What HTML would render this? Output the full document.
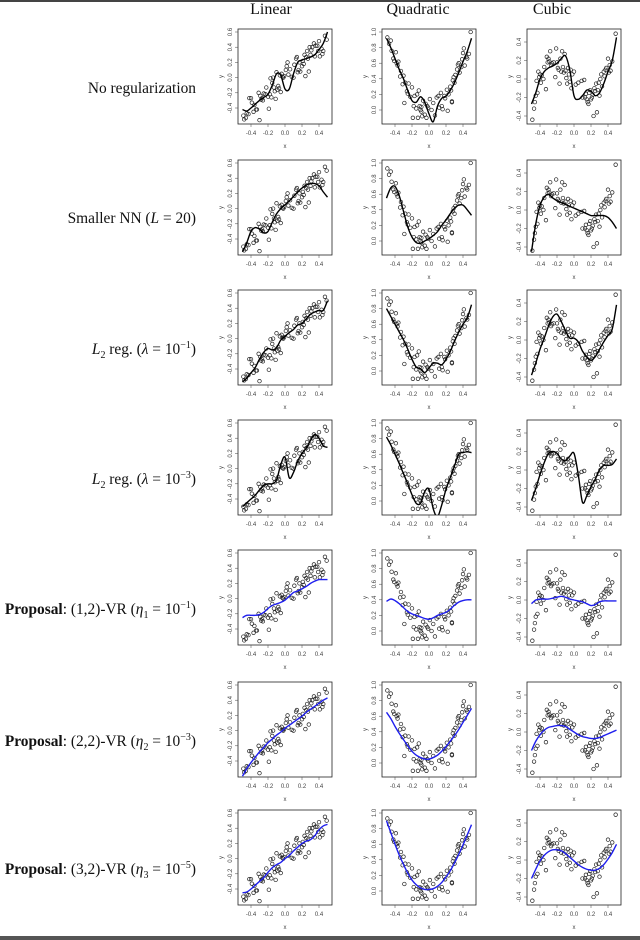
<!DOCTYPE html>
<html><head><meta charset="utf-8">
<style>
body{margin:0;background:#fff;}
#wrap{position:relative;width:640px;height:940px;overflow:hidden;background:#fff;font-family:"Liberation Serif",serif;}
.top{position:absolute;left:0;top:0;width:640px;height:2px;background:#444;}
.bot{position:absolute;left:0;top:936px;width:640px;height:4px;background:#555;}
.title{position:absolute;top:1px;font-size:16px;color:#111;transform:translateX(-50%);}
.rl{position:absolute;right:444px;font-size:15.4px;color:#111;white-space:nowrap;}
.rl i{font-style:italic}
sub,sup{font-size:10px;line-height:0}
svg{position:absolute;left:0;top:0}
</style></head><body>
<div id="wrap">
<div class="top"></div>
<div class="bot"></div>
<div class="title" style="left:271px">Linear</div>
<div class="title" style="left:418px">Quadratic</div>
<div class="title" style="left:552px">Cubic</div>
<div class="rl" style="top:80px">No regularization</div>
<div class="rl" style="top:210px">Smaller NN (<i>L</i> = 20)</div>
<div class="rl" style="top:341px"><i>L</i><sub>2</sub> reg. (<i>λ</i> = 10<sup>−1</sup>)</div>
<div class="rl" style="top:471px"><i>L</i><sub>2</sub> reg. (<i>λ</i> = 10<sup>−3</sup>)</div>
<div class="rl" style="top:601px"><b>Proposal</b>: (1,2)-VR (<i>η</i><sub>1</sub> = 10<sup>−1</sup>)</div>
<div class="rl" style="top:733px"><b>Proposal</b>: (2,2)-VR (<i>η</i><sub>2</sub> = 10<sup>−3</sup>)</div>
<div class="rl" style="top:861px"><b>Proposal</b>: (3,2)-VR (<i>η</i><sub>3</sub> = 10<sup>−5</sup>)</div>
<svg id="chart" width="640" height="940"></svg>
</div>
<script>
const linPts=[[-0.49,-0.50],[-0.48,-0.55],[-0.46,-0.53],[-0.45,-0.47],[-0.43,-0.48],[-0.42,-0.27],[-0.40,-0.27],[-0.39,-0.33],[-0.37,-0.45],[-0.36,-0.36],[-0.34,-0.42],[-0.33,-0.42],[-0.31,-0.20],[-0.30,-0.56],[-0.29,-0.24],[-0.28,-0.29],[-0.26,-0.30],[-0.25,-0.21],[-0.23,-0.22],[-0.22,-0.13],[-0.20,-0.25],[-0.19,-0.41],[-0.18,-0.22],[-0.17,-0.01],[-0.16,-0.26],[-0.15,-0.07],[-0.13,-0.13],[-0.12,-0.18],[-0.11,-0.28],[-0.10,0.07],[-0.09,-0.16],[-0.08,-0.11],[-0.07,-0.14],[-0.06,0.03],[-0.05,-0.19],[-0.04,0.05],[-0.03,0.01],[-0.02,0.00],[-0.01,0.02],[0.01,0.10],[0.02,0.15],[0.04,0.04],[0.06,0.11],[0.08,0.01],[0.10,0.00],[0.11,0.17],[0.13,0.25],[0.14,0.27],[0.15,0.07],[0.16,0.10],[0.17,0.20],[0.18,0.08],[0.20,0.15],[0.21,0.22],[0.22,0.18],[0.23,0.30],[0.25,0.27],[0.26,0.35],[0.27,0.25],[0.28,0.08],[0.29,0.40],[0.30,0.30],[0.31,0.36],[0.32,0.40],[0.34,0.45],[0.35,0.28],[0.36,0.42],[0.38,0.42],[0.39,0.35],[0.40,0.48],[0.41,0.28],[0.43,0.38],[0.44,0.31],[0.45,0.35],[0.47,0.55],[0.49,0.50],[0.24,0.02],[-0.14,0.00],[0.03,0.20],[-0.27,-0.27]];
const quadPts=[[-0.49,0.93],[-0.47,0.85],[-0.45,0.89],[-0.44,0.76],[-0.42,0.66],[-0.41,0.63],[-0.39,0.74],[-0.38,0.60],[-0.37,0.57],[-0.36,0.62],[-0.34,0.43],[-0.33,0.50],[-0.31,0.33],[-0.30,0.44],[-0.29,0.09],[-0.28,0.35],[-0.26,0.24],[-0.25,0.21],[-0.24,0.34],[-0.22,0.17],[-0.20,0.29],[-0.19,-0.10],[-0.18,0.05],[-0.17,0.18],[-0.15,0.02],[-0.14,0.20],[-0.13,-0.10],[-0.12,0.25],[-0.11,0.05],[-0.10,0.00],[-0.09,-0.02],[-0.08,-0.08],[-0.07,0.12],[-0.05,-0.06],[-0.04,0.08],[-0.03,-0.10],[-0.02,0.05],[-0.01,0.03],[0.01,0.14],[0.03,0.00],[0.05,0.09],[0.07,-0.07],[0.09,0.16],[0.11,0.18],[0.12,0.03],[0.14,0.22],[0.15,0.05],[0.16,0.01],[0.18,0.18],[0.19,0.15],[0.21,0.26],[0.22,-0.01],[0.23,0.20],[0.25,0.30],[0.26,0.25],[0.27,0.11],[0.28,0.38],[0.29,0.42],[0.30,0.35],[0.31,0.45],[0.33,0.52],[0.34,0.58],[0.35,0.60],[0.36,0.48],[0.38,0.55],[0.39,0.65],[0.40,0.73],[0.41,0.79],[0.42,0.57],[0.44,0.68],[0.45,0.66],[0.47,0.72],[0.49,1.00],[0.27,0.10],[-0.09,0.04]];
const cubPts=[[-0.49,-0.44],[-0.47,-0.32],[-0.46,-0.25],[-0.45,-0.18],[-0.44,-0.02],[-0.43,-0.15],[-0.42,0.08],[-0.41,0.02],[-0.40,0.05],[-0.39,-0.04],[-0.38,0.04],[-0.36,0.00],[-0.35,0.13],[-0.33,-0.11],[-0.32,0.24],[-0.31,0.18],[-0.30,0.22],[-0.29,0.19],[-0.28,0.30],[-0.27,0.15],[-0.26,0.17],[-0.24,0.18],[-0.22,0.02],[-0.21,0.33],[-0.20,0.18],[-0.19,0.12],[-0.18,0.10],[-0.17,-0.05],[-0.16,0.22],[-0.15,0.08],[-0.14,0.30],[-0.13,0.13],[-0.12,0.07],[-0.11,0.27],[-0.10,0.09],[-0.09,0.01],[-0.08,-0.05],[-0.07,0.12],[-0.06,0.05],[-0.05,-0.03],[-0.04,0.10],[-0.03,-0.10],[-0.02,0.05],[0.00,0.08],[0.02,-0.06],[0.05,-0.04],[0.09,-0.02],[0.10,-0.20],[0.12,-0.01],[0.13,-0.20],[0.14,-0.16],[0.15,-0.22],[0.16,-0.25],[0.17,-0.27],[0.18,-0.15],[0.19,-0.12],[0.20,-0.22],[0.21,-0.20],[0.22,-0.17],[0.23,-0.40],[0.24,-0.10],[0.25,-0.13],[0.26,-0.05],[0.27,-0.36],[0.28,-0.12],[0.29,-0.04],[0.30,-0.18],[0.31,0.00],[0.32,0.05],[0.33,-0.08],[0.35,0.08],[0.36,0.03],[0.37,0.10],[0.38,0.12],[0.40,0.22],[0.41,0.07],[0.42,0.15],[0.43,0.09],[0.45,0.19],[0.49,0.49]];
const curveX=[-0.5,-0.45,-0.4,-0.35,-0.3,-0.25,-0.2,-0.15,-0.1,-0.05,0,0.05,0.1,0.15,0.2,0.25,0.3,0.35,0.4,0.45,0.5];
const linCurves=[
[-0.42,-0.44,-0.40,-0.35,-0.30,-0.26,-0.22,-0.10,0.05,0.03,-0.15,-0.15,0.05,0.20,0.23,0.25,0.27,0.30,0.37,0.45,0.60],
[-0.57,-0.45,-0.30,-0.25,-0.27,-0.32,-0.30,-0.18,-0.07,0.00,0.05,0.10,0.16,0.22,0.27,0.31,0.33,0.33,0.30,0.22,0.15],
[-0.57,-0.52,-0.45,-0.38,-0.27,-0.18,-0.13,-0.15,-0.12,-0.02,0.03,0.08,0.12,0.18,0.20,0.26,0.32,0.35,0.37,0.37,0.50],
[-0.50,-0.45,-0.40,-0.35,-0.28,-0.22,-0.20,-0.20,-0.15,0.05,0.15,-0.12,-0.05,0.10,0.20,0.27,0.37,0.45,0.40,0.30,0.28],
[-0.25,-0.22,-0.22,-0.22,-0.21,-0.18,-0.13,-0.09,-0.07,-0.05,-0.02,0.03,0.08,0.10,0.13,0.16,0.20,0.23,0.25,0.25,0.25],
[-0.60,-0.50,-0.42,-0.35,-0.28,-0.22,-0.16,-0.11,-0.06,-0.02,0.03,0.07,0.11,0.15,0.19,0.24,0.28,0.32,0.36,0.40,0.43],
[-0.45,-0.44,-0.40,-0.35,-0.30,-0.25,-0.18,-0.12,-0.08,-0.05,0.00,0.04,0.10,0.15,0.20,0.23,0.25,0.30,0.38,0.43,0.45]];
const quadCurves=[
[0.92,0.80,0.66,0.52,0.40,0.25,0.12,0.10,0.17,0.10,-0.05,-0.15,0.05,0.15,0.18,0.25,0.35,0.48,0.62,0.75,0.92],
[0.55,0.68,0.70,0.58,0.38,0.18,0.05,-0.02,-0.03,0.00,0.03,0.07,0.12,0.20,0.27,0.35,0.42,0.46,0.46,0.40,0.33],
[0.80,0.70,0.60,0.50,0.40,0.28,0.15,0.05,0.03,-0.02,0.04,0.10,0.10,0.08,0.15,0.25,0.38,0.50,0.60,0.68,0.85],
[0.82,0.72,0.60,0.48,0.35,0.22,0.08,-0.03,-0.03,0.12,0.15,-0.10,-0.20,-0.05,0.15,0.30,0.45,0.60,0.62,0.63,0.62],
[0.38,0.41,0.39,0.35,0.30,0.25,0.22,0.20,0.18,0.16,0.15,0.17,0.20,0.22,0.24,0.28,0.33,0.37,0.39,0.40,0.40],
[0.65,0.57,0.47,0.38,0.30,0.22,0.15,0.10,0.07,0.05,0.05,0.07,0.10,0.15,0.21,0.28,0.35,0.43,0.52,0.61,0.70],
[0.90,0.75,0.60,0.46,0.34,0.23,0.14,0.08,0.04,0.02,0.02,0.03,0.06,0.11,0.18,0.26,0.36,0.47,0.59,0.72,0.85]];
const cubCurves=[
[-0.27,-0.15,0.00,0.08,0.12,0.14,0.17,0.22,0.25,0.10,-0.18,-0.22,-0.18,-0.12,-0.13,-0.18,-0.15,-0.05,0.08,0.20,0.45],
[-0.45,-0.15,0.05,0.14,0.17,0.13,0.10,0.08,0.06,0.04,0.02,0.00,-0.02,-0.04,-0.06,-0.06,-0.06,-0.06,-0.08,-0.13,-0.20],
[-0.38,-0.25,-0.10,0.02,0.15,0.25,0.28,0.20,0.10,0.02,0.02,-0.02,-0.12,-0.18,-0.22,-0.18,-0.10,-0.02,0.05,0.12,0.38],
[-0.33,-0.20,-0.05,0.08,0.18,0.20,0.18,0.12,0.10,0.15,0.18,-0.05,-0.35,-0.28,-0.18,-0.10,0.00,0.05,0.05,0.06,0.12],
[-0.04,0.00,0.01,0.01,0.01,0.02,0.03,0.04,0.03,0.01,0.00,-0.01,-0.02,-0.04,-0.06,-0.05,-0.02,-0.01,-0.01,-0.01,-0.01],
[-0.20,-0.10,-0.03,0.02,0.05,0.06,0.07,0.07,0.06,0.03,0.00,-0.03,-0.05,-0.06,-0.07,-0.07,-0.06,-0.04,-0.02,0.00,0.02],
[-0.20,-0.10,-0.01,0.05,0.09,0.11,0.11,0.10,0.07,0.03,-0.01,-0.05,-0.08,-0.10,-0.11,-0.11,-0.09,-0.05,0.01,0.08,0.17]];
const xTicks=[-0.4,-0.2,0.0,0.2,0.4];
const linYTicks=[-0.4,-0.2,0.0,0.2,0.4,0.6];
const quadYTicks=[0.0,0.2,0.4,0.6,0.8,1.0];
const cubYTicks=[-0.4,-0.2,0.0,0.2,0.4];

const NS="http://www.w3.org/2000/svg";
const svg=document.getElementById('chart');
const rowTops=[29,160,290,420,550,682,810];
const colLefts=[238,382,527];
const W=94,H=95;
const cols=[
 {name:'linear',pts:linPts,curves:linCurves,ticks:linYTicks,yTop:0.6,yPad:3,yScale:76},
 {name:'quadratic',pts:quadPts,curves:quadCurves,ticks:quadYTicks,yTop:1.0,yPad:3,yScale:78},
 {name:'cubic',pts:cubPts,curves:cubCurves,ticks:cubYTicks,yTop:0.4,yPad:13,yScale:92.5}];
function mk(tag,attrs,parent){const e=document.createElementNS(NS,tag);for(const k in attrs)e.setAttribute(k,attrs[k]);(parent||svg).appendChild(e);return e;}
function fmt(v){return (v<0?'-':'')+Math.abs(v).toFixed(1);}
function smoothPath(P){let d='M'+P[0][0].toFixed(2)+','+P[0][1].toFixed(2);
 for(let i=0;i<P.length-1;i++){const p0=P[Math.max(i-1,0)],p1=P[i],p2=P[i+1],p3=P[Math.min(i+2,P.length-1)];
  const c1=[p1[0]+(p2[0]-p0[0])/6,p1[1]+(p2[1]-p0[1])/6],c2=[p2[0]-(p3[0]-p1[0])/6,p2[1]-(p3[1]-p1[1])/6];
  d+=' C'+c1[0].toFixed(2)+','+c1[1].toFixed(2)+' '+c2[0].toFixed(2)+','+c2[1].toFixed(2)+' '+p2[0].toFixed(2)+','+p2[1].toFixed(2);}
 return d;}
const defs=mk('defs',{});
rowTops.forEach((top,r)=>{
 cols.forEach((c,ci)=>{
  const left=colLefts[ci];
  const xs=v=>left+4.5+(v+0.5)*85;
  const ys=v=>top+c.yPad+(c.yTop-v)*c.yScale;
  const g=mk('g',{});
  
  
  const cid='clip'+r+'_'+ci;
  const cp=mk('clipPath',{id:cid},defs);
  mk('rect',{x:left,y:top,width:W,height:H},cp);
  c.pts.forEach(p=>{
   const ci2=mk('circle',{cx:xs(p[0]).toFixed(2),cy:ys(p[1]).toFixed(2),r:1.8,fill:'none',stroke:'#222','stroke-width':0.7},g);
   
   
  });
  const P=curveX.map((x,i)=>[xs(x),ys(c.curves[r][i])]);
  const path=mk('path',{d:smoothPath(P),fill:'none',stroke:r>=4?'#1f1fee':'#000','stroke-width':1.4,'clip-path':'url(#'+cid+')'},g);
  
  
  const box=mk('rect',{x:left,y:top,width:W,height:H,fill:'none',stroke:'#222','stroke-width':0.8},g);
  
  
  xTicks.forEach(t=>{
   const x=xs(t);
   mk('line',{x1:x,x2:x,y1:top+H,y2:top+H+3,stroke:'#444','stroke-width':0.5},g);
   const tx=mk('text',{x:x,y:top+H+11,'font-size':6,'font-family':'Liberation Sans, sans-serif',fill:'#444','text-anchor':'middle'},g);
   tx.textContent=fmt(t);
   
   
  });
  const xl=mk('text',{x:left+W/2,y:top+H+24,'font-size':6,'font-family':'Liberation Sans, sans-serif',fill:'#444','text-anchor':'middle'},g);
  xl.textContent='x';
  
  
  c.ticks.forEach(t=>{
   const y=ys(t);
   mk('line',{x1:left-3,x2:left,y1:y,y2:y,stroke:'#444','stroke-width':0.5},g);
   const tx=mk('text',{x:left-6,y:y,'font-size':6,'font-family':'Liberation Sans, sans-serif',fill:'#444','text-anchor':'middle',transform:'rotate(-90 '+(left-6)+' '+y+')'},g);
   tx.textContent=fmt(t);
   
   
  });
  const yl=mk('text',{x:left-15,y:top+H/2,'font-size':6,'font-family':'Liberation Sans, sans-serif',fill:'#444','text-anchor':'middle',transform:'rotate(-90 '+(left-15)+' '+(top+H/2)+')'},g);
  yl.textContent='y';
  
  
 });
});
</script>
</body></html>
